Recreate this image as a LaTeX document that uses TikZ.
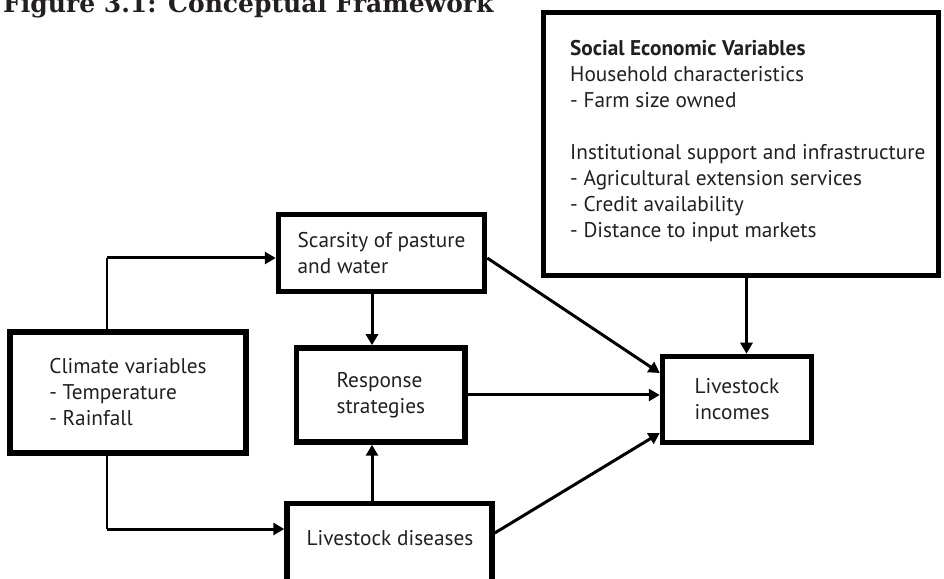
\documentclass[tikz,border=0pt]{standalone}
\usepackage{fontspec}
\setsansfont{PT Sans}
\newfontfamily\titlefont{DejaVu Serif}
\usetikzlibrary{arrows.meta}
\pgfdeclarelayer{edgelayer}
\pgfdeclarelayer{nodelayer}
\pgfsetlayers{edgelayer,nodelayer,main}
\definecolor{ink}{RGB}{35,31,32}
\tikzset{font=\sffamily\fontsize{21.3}{26}\selectfont}
\tikzstyle{none}=[inner sep=0pt,text=ink]
\tikzstyle{box}=[rectangle,draw=black,line width=5.5pt,inner sep=0pt,align=left,text=ink]
\tikzstyle{arrowline}=[line width=3pt,-{Triangle[length=11pt,width=12pt]}]
\tikzstyle{thinline}=[line width=1.8pt]

\begin{document}
\begin{tikzpicture}[x=10pt,y=10pt]
	\useasboundingbox (0,0) rectangle (94.4,57.8);
	\begin{pgfonlayer}{nodelayer}
		\node [style=none, anchor=base west, font=\titlefont\bfseries\fontsize{25}{29}\selectfont] (10) at (0.3, 56.53) {Figure 3.1: Conceptual Framework};
		\node [style=box, minimum width=395pt, minimum height=263pt] (0) at (74.1, 43.4) {};
		\node [style=none, anchor=north west, align=left] (11) at (57.0, 53.8) {\textbf{Social Economic Variables}\\Household characteristics\\- Farm size owned\\[26pt]Institutional support and infrastructure\\- Agricultural extension services\\- Credit availability\\- Distance to input markets};
		\node [style=box, minimum width=236pt, minimum height=121pt] (1) at (12.8, 18.55) {Climate variables\\- Temperature\\- Rainfall};
		\node [style=box, minimum width=206pt, minimum height=77pt] (2) at (38.15, 32.5) {Scarsity of pasture\\and water};
		\node [style=box, minimum width=168.5pt, minimum height=94pt] (3) at (38.08, 18.3) {Response\\strategies};
		\node [style=box, minimum width=205pt, minimum height=86.5pt] (4) at (38.95, 3.125) {};
		\node [style=none, anchor=base] (12) at (39.0, 3.3) {Livestock diseases};
		\node [style=box, minimum width=149pt, minimum height=86pt] (5) at (73.7, 17.85) {Livestock\\incomes};
		\coordinate (6) at (10.7, 32.0);
		\coordinate (7) at (10.7, 4.9);
		\coordinate (8) at (37.2, 30);
		\coordinate (9) at (74.65, 30);
	\end{pgfonlayer}
	\begin{pgfonlayer}{edgelayer}
		\draw [style=thinline] (6 |- 1.north) to (6);
		\draw [style=arrowline] (6) to (2.west |- 6);
		\draw [style=thinline] (7 |- 1.south) to (7);
		\draw [style=arrowline] (7) to (4.west |- 7);
		\draw [style=arrowline] (2.south -| 8) to (3.north -| 8);
		\draw [style=arrowline] (4.north -| 8) to (3.south -| 8);
		\draw [style=arrowline] ([yshift=-5pt]2.east) to ([yshift=26.5pt]5.west);
		\draw [style=arrowline] (3.east) to (3.east -| 5.west);
		\draw [style=arrowline] ([yshift=13.75pt]4.east) to ([yshift=-33.5pt]5.west);
		\draw [style=arrowline] (0.south -| 9) to (5.north -| 9);
	\end{pgfonlayer}
\end{tikzpicture}
\end{document}
